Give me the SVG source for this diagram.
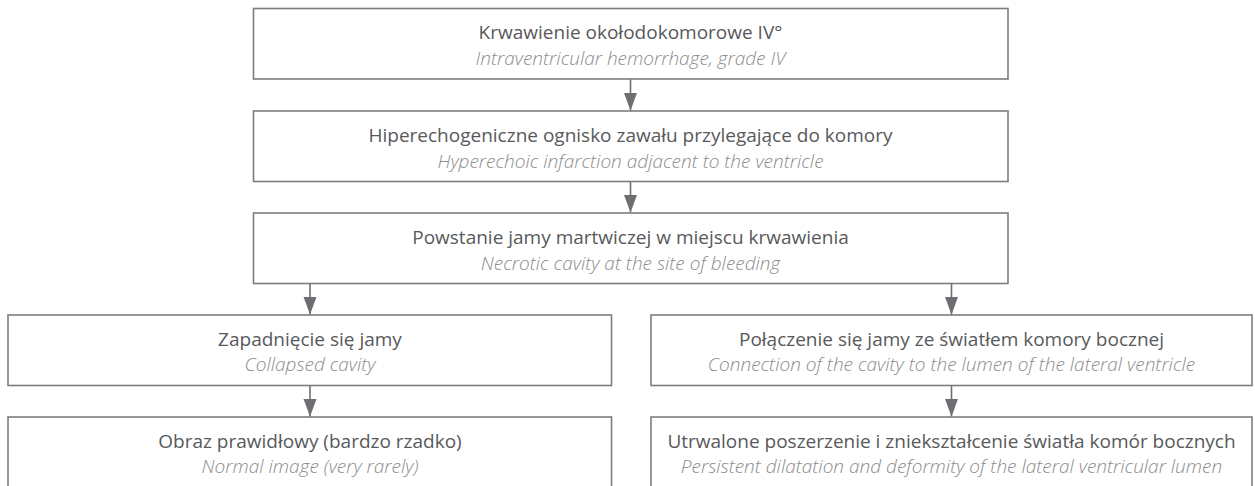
<svg xmlns="http://www.w3.org/2000/svg" width="1255" height="486" viewBox="0 0 1255 486">
  <style>
    .box { fill: #ffffff; stroke: #7d7d7d; stroke-width: 1.6; }
    .t { font-family: "Open Sans", "Noto Sans", sans-serif; font-size: 19px; fill: #58595b; text-anchor: middle; }
    .s { font-family: "Open Sans", "Noto Sans", sans-serif; font-size: 19px; font-style: italic; font-weight: 300; fill: #8c8c8c; text-anchor: middle; }
    .conn { stroke: #6d6e71; stroke-width: 1.6; fill: none; }
  </style>
  <defs>
    <marker id="arr" markerUnits="userSpaceOnUse" markerWidth="18" markerHeight="14" viewBox="0 0 18 14" refX="17.5" refY="7" orient="auto">
      <path d="M0,0.5 L17.5,7 L0,13.5 Z" fill="#6d6e71"/>
    </marker>
  </defs>
  <rect width="1255" height="486" fill="#ffffff"/>

  <g id="n1">
    <rect class="box" x="253.5" y="8.5" width="754.5" height="70.5"/>
    <text class="t" x="630.5" y="39">Krwawienie okołodokomorowe IV°</text>
    <text class="s" x="630.5" y="65">Intraventricular hemorrhage, grade IV</text>
  </g>
  <g id="n2">
    <rect class="box" x="253.5" y="111" width="754.5" height="70.5"/>
    <text class="t" x="630.5" y="142">Hiperechogeniczne ognisko zawału przylegające do komory</text>
    <text class="s" x="630.5" y="167.5">Hyperechoic infarction adjacent to the ventricle</text>
  </g>
  <g id="n3">
    <rect class="box" x="253.5" y="213" width="754.5" height="70.5"/>
    <text class="t" x="630.5" y="244">Powstanie jamy martwiczej w miejscu krwawienia</text>
    <text class="s" x="630.5" y="269.5">Necrotic cavity at the site of bleeding</text>
  </g>
  <g id="n4">
    <rect class="box" x="8" y="315" width="603.5" height="70.5"/>
    <text class="t" x="310" y="346">Zapadnięcie się jamy</text>
    <text class="s" x="310" y="371">Collapsed cavity</text>
  </g>
  <g id="n5">
    <rect class="box" x="651" y="315" width="601" height="70.5"/>
    <text class="t" x="951.5" y="346">Połączenie się jamy ze światłem komory bocznej</text>
    <text class="s" x="951.5" y="371">Connection of the cavity to the lumen of the lateral ventricle</text>
  </g>
  <g id="n6">
    <rect class="box" x="8" y="417" width="603.5" height="90"/>
    <text class="t" x="310" y="448">Obraz prawidłowy (bardzo rzadko)</text>
    <text class="s" x="310" y="473">Normal image (very rarely)</text>
  </g>
  <g id="n7">
    <rect class="box" x="651" y="417" width="601" height="90"/>
    <text class="t" x="951.5" y="448">Utrwalone poszerzenie i zniekształcenie światła komór bocznych</text>
    <text class="s" x="951.5" y="473">Persistent dilatation and deformity of the lateral ventricular lumen</text>
  </g>

  <g id="connectors">
    <line class="conn" x1="630.5" y1="79.5" x2="630.5" y2="110.5" marker-end="url(#arr)"/>
    <line class="conn" x1="630.5" y1="182" x2="630.5" y2="212.5" marker-end="url(#arr)"/>
    <line class="conn" x1="310" y1="284" x2="310" y2="314.5" marker-end="url(#arr)"/>
    <line class="conn" x1="951.5" y1="284" x2="951.5" y2="314.5" marker-end="url(#arr)"/>
    <line class="conn" x1="310" y1="386" x2="310" y2="416.5" marker-end="url(#arr)"/>
    <line class="conn" x1="951.5" y1="386" x2="951.5" y2="416.5" marker-end="url(#arr)"/>
  </g>
</svg>
